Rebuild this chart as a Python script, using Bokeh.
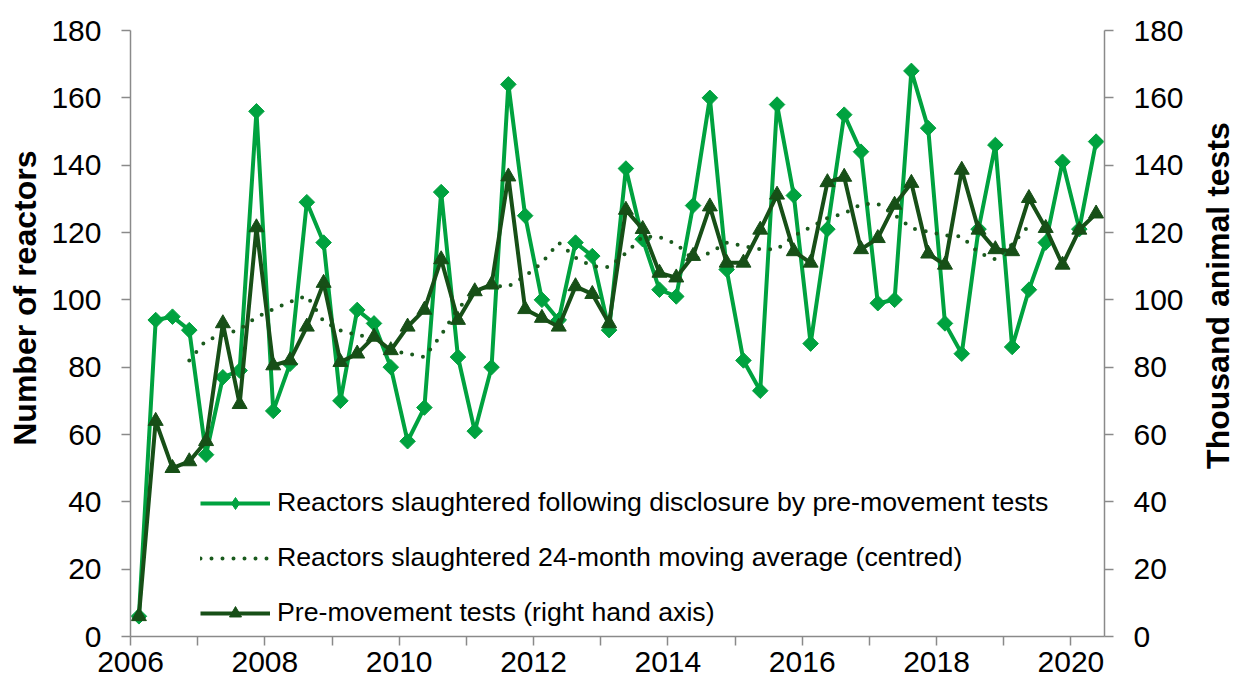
import math
from bokeh.plotting import figure
from bokeh.layouts import row
from bokeh.models import (LinearAxis, Range1d, FixedTicker, Legend, LegendItem,
                          ColumnDataSource)
from bokeh.core.properties import value
from bokeh.embed import file_html
from bokeh.resources import INLINE

# ---------------- data ----------------
periods = [f"{y} Q{q}" for y in range(2006, 2021) for q in range(1, 5)][:58]

reactors = [6, 94, 95, 91, 54, 77, 79, 156, 67, 81, 129, 117, 70, 97, 93, 80,
            58, 68, 132, 83, 61, 80, 164, 125, 100, 94, 117, 113, 91, 139,
            118, 103, 101, 128, 160, 109, 82, 73, 158, 131, 87, 121, 155, 144,
            99, 100, 168, 151, 93, 84, 121, 146, 86, 103, 117, 141, 121, 147]

tests = [6, 64, 50, 52, 58, 93, 69, 121.5, 80.5, 82, 92, 105, 81.5, 84, 89, 85,
         92, 97, 112, 94, 102.5, 104.5, 136.6, 97.2, 94.6, 92, 104, 101.7, 93,
         126.7, 121, 108, 106.6, 113, 127.7, 111, 111, 120.8, 131.2, 114.4, 111,
         134.9, 136.5, 115, 118.3, 128.2, 134.7, 113.7, 110.4, 138.6, 120.8,
         115, 114.4, 130.2, 121.3, 110.4, 120.8, 125.6]

ma_periods = periods[3:54]
moving_avg = [82, 88, 89.5, 91.3, 94.8, 97.2, 99.4, 101.2, 93.6, 90.9,
              89.5, 88.8, 85, 84, 83, 89.5, 97.5, 102, 104, 104,
              107, 111, 117, 112.5, 110, 109.7, 113.9, 118.8, 118.6, 116.6,
              112, 114, 117, 116, 115, 115, 119, 121.6, 124.3, 125.6,
              128.4, 128.5, 125.2, 121.3, 120.2, 119.2, 118.8, 114, 112, 116.5,
              122]

year_ticks = list(range(2006, 2021))
year_labels = [str(y) if y % 2 == 0 else "" for y in year_ticks]
y_ticks = list(range(0, 181, 20))

series_names = ["Reactors slaughtered following disclosure by pre-movement tests",
                "Reactors slaughtered 24-month moving average (centred)",
                "Pre-movement tests (right hand axis)"]
left_title = "Number of reactors"
right_title = "Thousand animal tests"


def to_x(period):
    y, q = period.split(" Q")
    return int(y) + (int(q) - 1) * 0.25 + 0.125


# ---------------- styling ----------------
LIGHT = "#00A23F"
DARK = "#174F17"
DOT = "#1A5A1D"
AXIS = "#8A8A8A"
FONT = "Liberation Sans"
H = 686
SIDE_W = 48

p = figure(width=1236 - 2 * SIDE_W, height=H, x_range=Range1d(2006, 2020.5),
           y_range=Range1d(0, 180), output_backend="svg", toolbar_location=None,
           min_border_left=80, min_border_right=84, min_border_top=30,
           min_border_bottom=50)
p.extra_y_ranges = {"right": Range1d(0, 180)}
p.xgrid.visible = False
p.ygrid.visible = False
p.outline_line_color = None
p.background_fill_color = "white"
p.border_fill_color = "white"

# axes
ax = p.xaxis[0]
ax.ticker = FixedTicker(ticks=year_ticks)
ax.major_label_overrides = {t: l for t, l in zip(year_ticks, year_labels)}
ax.major_label_standoff = 6

ay = p.yaxis[0]
ay.ticker = FixedTicker(ticks=y_ticks)
ay.major_label_standoff = 20

ry = LinearAxis(y_range_name="right", ticker=FixedTicker(ticks=y_ticks))
ry.major_label_standoff = 20
p.add_layout(ry, "right")

for a in (ax, ay, ry):
    a.axis_line_color = AXIS
    a.axis_line_width = 1.5
    a.major_tick_line_color = AXIS
    a.major_tick_line_width = 1.5
    a.major_tick_in = 0
    a.major_tick_out = 9
    a.minor_tick_line_color = None
    a.major_label_text_font = FONT
    a.major_label_text_font_size = "30px"
    a.major_label_text_color = "black"

# ---------------- glyphs ----------------
src_r = ColumnDataSource(dict(x=[to_x(s) for s in periods], y=reactors))
src_t = ColumnDataSource(dict(x=[to_x(s) for s in periods], y=tests))
src_m = ColumnDataSource(dict(x=[to_x(s) for s in ma_periods], y=moving_avg))
src_nan = ColumnDataSource(dict(x=[float("nan")], y=[float("nan")]))

l1 = p.line("x", "y", source=src_r, line_color=LIGHT, line_width=4)
m1 = p.scatter("x", "y", source=src_r, marker="square", angle=math.pi / 4,
               size=11, fill_color=LIGHT, line_color=LIGHT)
leg1 = p.scatter("x", "y", source=src_nan, marker="diamond", size=17,
                 fill_color=LIGHT, line_color=LIGHT)

l2 = p.line("x", "y", source=src_m, line_color=DOT, line_width=4,
            line_dash="0 11", line_cap="round")

l3 = p.line("x", "y", source=src_t, line_color=DARK, line_width=4,
            y_range_name="right")
m3 = p.scatter("x", "y", source=src_t, marker="triangle", size=15,
               fill_color=DARK, line_color=DARK, y_range_name="right")

legend = Legend(items=[LegendItem(label=series_names[0], renderers=[l1, leg1]),
                       LegendItem(label=series_names[1], renderers=[l2]),
                       LegendItem(label=series_names[2], renderers=[l3, m3])],
                location=(70, 8), orientation="vertical")
legend.label_text_font = FONT
legend.label_text_font_size = "26.7px"
legend.label_text_color = "black"
legend.glyph_width = 70
legend.glyph_height = 30
legend.label_height = 30
legend.spacing = 24
legend.padding = 0
legend.margin = 0
legend.label_standoff = 7
legend.border_line_alpha = 0
legend.background_fill_alpha = 0
p.add_layout(legend, "center")


# ---------------- axis titles (narrow side strips, pixel ranges) ----------------
def title_strip(text, cx, cy_from_top):
    s = figure(width=SIDE_W, height=H, x_range=Range1d(0, SIDE_W),
               y_range=Range1d(0, H), output_backend="svg",
               toolbar_location=None, x_axis_location=None,
               y_axis_location=None, min_border=0)
    s.xgrid.visible = False
    s.ygrid.visible = False
    s.outline_line_color = None
    s.border_fill_color = "white"
    s.background_fill_color = "white"
    s.text(x=[cx], y=[H - cy_from_top], text=[text], angle=math.pi / 2,
           text_align="center", text_baseline="middle",
           text_font=value(FONT), text_font_size="32px",
           text_font_style="bold", text_color="black")
    return s


left_strip = title_strip(left_title, 24, 303)
right_strip = title_strip(right_title, 1217 - (1236 - SIDE_W), 300)

layout = row(left_strip, p, right_strip, spacing=0)

open("out.html", "w").write(file_html(layout, INLINE))
